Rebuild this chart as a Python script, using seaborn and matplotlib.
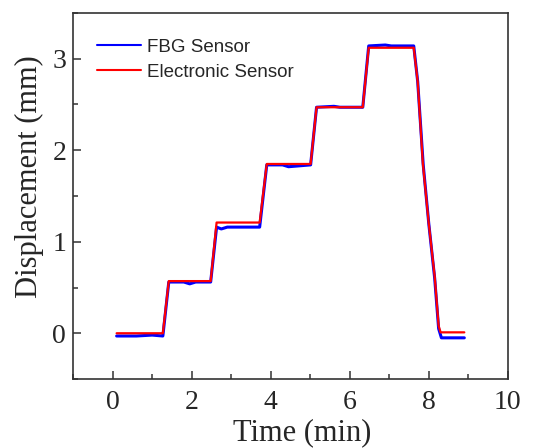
import numpy as np
import pandas as pd
import matplotlib
matplotlib.use("Agg")
import matplotlib.pyplot as plt
import seaborn as sns
from matplotlib.ticker import MultipleLocator

# Time (min) and displacement (mm)
fbg_time = [0.1, 0.6, 1.0, 1.27, 1.42, 1.8, 1.95, 2.1, 2.48, 2.63, 2.75, 2.9, 3.72, 3.9,
            4.3, 4.45, 5.01, 5.16, 5.6, 5.75, 6.33, 6.48, 6.9, 7.05, 7.62, 7.72, 7.86,
            8.0, 8.15, 8.25, 8.32, 8.9]
fbg_disp = [-0.03, -0.03, -0.02, -0.03, 0.56, 0.56, 0.54, 0.56, 0.56, 1.16, 1.14, 1.16,
            1.16, 1.84, 1.84, 1.82, 1.84, 2.47, 2.48, 2.47, 2.47, 3.14, 3.15, 3.14, 3.14,
            2.75, 1.84, 1.2, 0.6, 0.05, -0.05, -0.05]

elec_time = [0.1, 1.27, 1.42, 2.48, 2.63, 3.72, 3.9, 5.01, 5.16, 6.33, 6.48, 7.62, 7.72,
             7.85, 8.0, 8.15, 8.25, 8.3, 8.9]
elec_disp = [0.0, 0.0, 0.57, 0.57, 1.21, 1.21, 1.85, 1.85, 2.47, 2.47, 3.12, 3.12, 2.75,
             1.86, 1.2, 0.62, 0.08, 0.01, 0.01]

fbg = pd.DataFrame({"Time": fbg_time, "Disp": fbg_disp})
elec = pd.DataFrame({"Time": elec_time, "Disp": elec_disp})

sns.set_style("ticks")
plt.rcParams["font.family"] = ["Liberation Serif", "DejaVu Serif"]
plt.rcParams["xtick.direction"] = "in"
plt.rcParams["ytick.direction"] = "in"

fig = plt.figure(figsize=(5.46, 4.48), dpi=100)
ax = fig.add_axes([0.134, 0.154, 0.796, 0.817])

sns.lineplot(data=fbg, x="Time", y="Disp", color="#0000ff", linewidth=2.2,
             estimator=None, sort=False, label="FBG Sensor", ax=ax)
sns.lineplot(data=elec, x="Time", y="Disp", color="#ff0000", linewidth=1.6,
             estimator=None, sort=False, label="Electronic Sensor", ax=ax)

ax.set_xlim(-1, 10)
ax.set_ylim(-0.5, 3.5)
ax.xaxis.set_major_locator(MultipleLocator(2))
ax.xaxis.set_minor_locator(MultipleLocator(1))
ax.yaxis.set_major_locator(MultipleLocator(1))
ax.yaxis.set_minor_locator(MultipleLocator(0.5))
ax.tick_params(which="major", length=6, width=1.1, labelsize=20, color="#333333")
ax.tick_params(which="minor", length=3.5, width=1.1, color="#333333")
ax.tick_params(axis="x", which="major", pad=8)
ax.tick_params(axis="y", which="major", pad=5)
for s in ax.spines.values():
    s.set_linewidth(1.2)
    s.set_color("#333333")

ax.set_xlabel("Time (min)", fontsize=22)
ax.set_ylabel("Displacement (mm)", fontsize=22)
ax.xaxis.set_label_coords(0.526, -0.107)
ax.yaxis.set_label_coords(-0.066, 0.552)

leg = ax.legend(loc="upper left", bbox_to_anchor=(0.055, 0.93), frameon=False,
                borderpad=0, borderaxespad=0, handlelength=2.35, handletextpad=0.32,
                labelspacing=0.42, prop={"family": "Liberation Sans", "size": 13.5})
for line in leg.get_lines():
    line.set_linewidth(1.5)

fig.savefig("out.png", dpi=100)
